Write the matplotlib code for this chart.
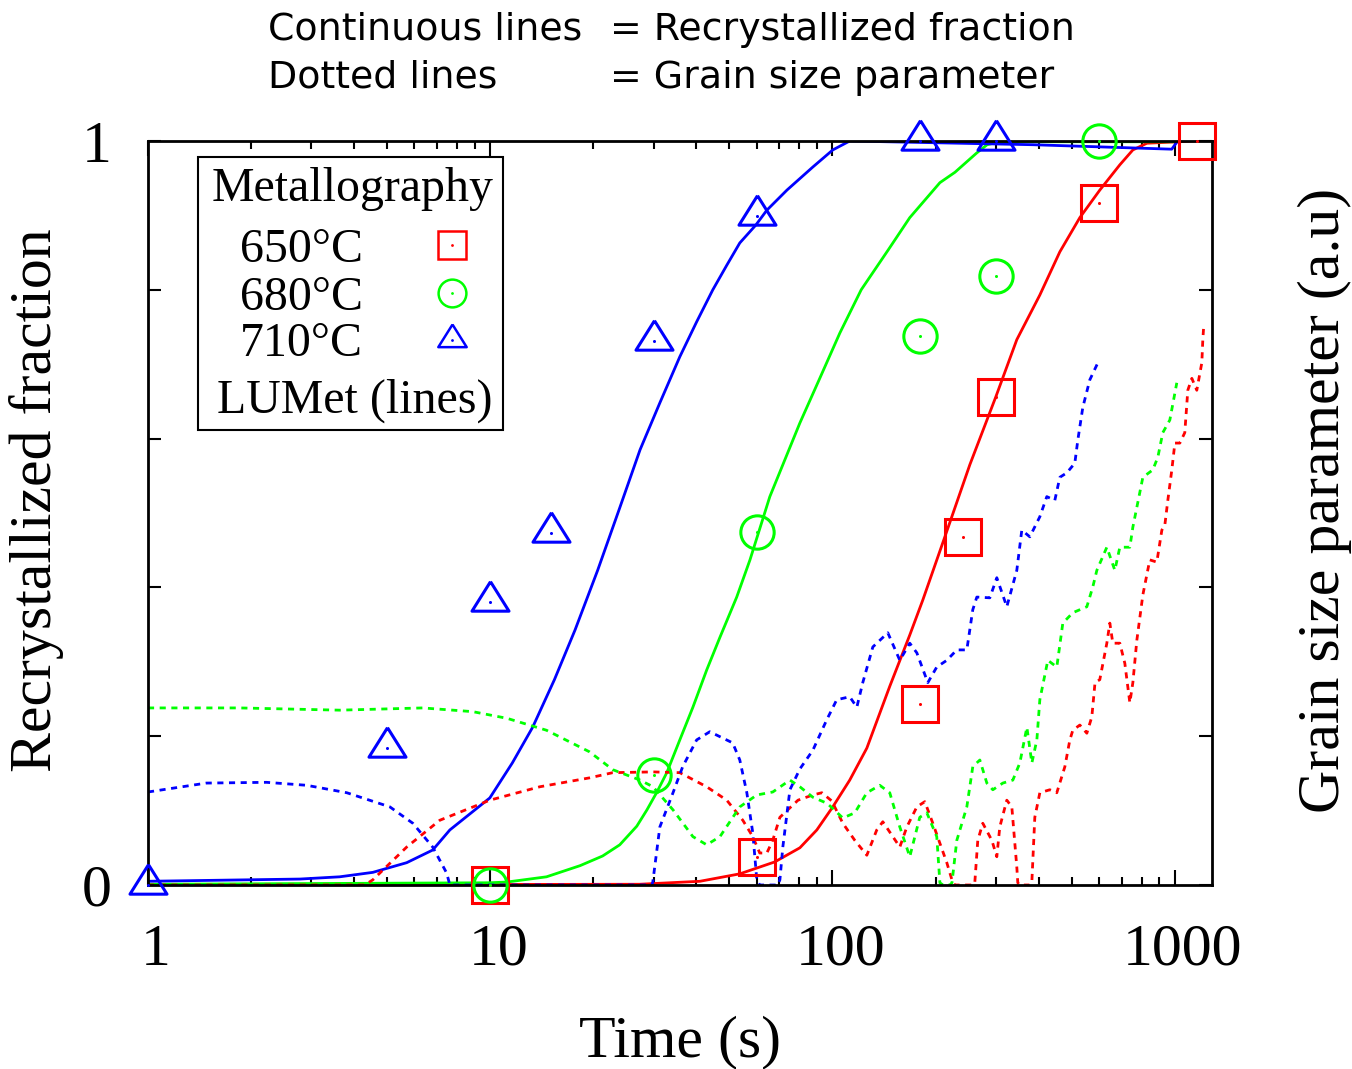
import matplotlib
matplotlib.use("Agg")
import matplotlib.pyplot as plt
from matplotlib.patches import Rectangle
from matplotlib.lines import Line2D
from matplotlib.transforms import ScaledTranslation
from matplotlib.ticker import FixedLocator, NullFormatter, FixedFormatter

# ---------------- Metallography (time in s, recrystallized fraction) ----------------
met650_t = [10, 60, 180, 240, 300, 600, 1160]
met650_f = [0.0, 0.038, 0.243, 0.468, 0.656, 0.917, 1.0]

met680_t = [10, 30, 60, 180, 300, 600]
met680_f = [0.0, 0.148, 0.474, 0.738, 0.819, 1.0]

met710_t = [1, 5, 10, 15, 30, 60, 180, 300]
met710_f = [0.0, 0.184, 0.380, 0.473, 0.731, 0.899, 1.0, 1.0]

# ---------------- LUMet: recrystallized fraction ----------------
rx710_t = [1.0, 1.98, 2.78, 3.63, 4.54, 5.70, 6.79, 7.62, 9.97, 11.6, 13.3, 15.4, 17.7,
           20.6, 23.9, 27.4, 31.3, 35.8, 40.1, 44.7, 49.1, 53.6, 59.7, 64.3, 73.6, 87.6,
           100.2, 112.3, 385, 980, 1020]
rx710_f = [0.005, 0.007, 0.008, 0.011, 0.017, 0.030, 0.047, 0.074, 0.117, 0.164, 0.212,
           0.276, 0.343, 0.423, 0.507, 0.585, 0.648, 0.710, 0.757, 0.800, 0.833, 0.863,
           0.887, 0.907, 0.934, 0.965, 0.988, 1.0, 0.995, 0.989, 1.0]

rx680_t = [1.0, 9.97, 11.2, 14.6, 18.3, 21.3, 23.9, 26.8, 28.7, 30.7, 32.8, 35.8, 39.1,
           42.9, 46.9, 52.5, 57.4, 65.6, 80.3, 91.8, 105.1, 121.3, 145.2, 168.2, 206, 228,
           264, 283, 308, 1001]
rx680_f = [0.001, 0.003, 0.004, 0.011, 0.026, 0.039, 0.054, 0.079, 0.101, 0.125, 0.151,
           0.195, 0.239, 0.289, 0.333, 0.387, 0.437, 0.522, 0.621, 0.681, 0.742, 0.800,
           0.853, 0.897, 0.944, 0.958, 0.984, 0.995, 0.999, 0.999]

rx650_t = [1.0, 27.3, 41.0, 53.6, 67.8, 80.3, 90.0, 100.2, 112.3, 126, 147, 168.2, 183.6,
           213, 252, 300, 345.6, 403.5, 461.6, 528.1, 604, 691.2, 754.5, 829, 1145]
rx650_f = [0.0, 0.001, 0.005, 0.015, 0.031, 0.050, 0.074, 0.105, 0.141, 0.184, 0.267,
           0.336, 0.383, 0.468, 0.565, 0.656, 0.733, 0.793, 0.851, 0.897, 0.934, 0.968,
           0.988, 0.997, 1.0]

# ---------------- LUMet: grain size parameter ----------------
gs710_t = [1.0, 1.48, 2.22, 2.91, 3.81, 5.09, 5.94, 6.79, 7.46, 7.62, 29.65, 29.85, 31.3,
           34.2, 36.5, 40.1, 43.8, 51.1, 53.6, 56.2, 58.5, 60.1, 61.3, 69.2, 70.2, 71.6,
           75.1, 80.3, 87.6, 96.2, 102.9, 112.3, 117.8, 122.6, 131.2, 145.1, 157.3, 168.2,
           176.4, 189.9, 201.7, 215.8, 230.8, 246.9, 257, 264.1, 288.2, 302.1, 323.1,
           345.6, 357.4, 377.2, 403.5, 422.9, 446.3, 461.6, 483.9, 510.6, 521, 538.8,
           564.8, 596.3]
gs710_v = [0.125, 0.137, 0.138, 0.134, 0.124, 0.105, 0.083, 0.051, 0.016, 0.0, 0.0, 0.004,
           0.078, 0.124, 0.159, 0.195, 0.206, 0.191, 0.168, 0.124, 0.070, 0.007, 0.0, 0.0,
           0.007, 0.051, 0.128, 0.156, 0.181, 0.222, 0.249, 0.253, 0.239, 0.272, 0.320,
           0.339, 0.302, 0.325, 0.312, 0.272, 0.293, 0.302, 0.316, 0.316, 0.370, 0.387,
           0.386, 0.413, 0.374, 0.423, 0.477, 0.468, 0.495, 0.522, 0.517, 0.548, 0.554,
           0.567, 0.598, 0.642, 0.679, 0.702]

gs680_t = [1.0, 1.85, 3.63, 6.35, 8.89, 11.2, 14.6, 19.5, 22.8, 27.4, 29.9, 34.2, 39.1,
           42.9, 46.9, 53.6, 60.1, 66.9, 75.1, 80.3, 87.6, 96.2, 100.2, 107.2, 116.2, 126,
           137.5, 147, 157.3, 168.2, 179.9, 188.7, 201.7, 206, 210.2, 220.3, 223.4, 230.8,
           246.9, 257, 269.5, 282.5, 294.1, 314.6, 336.5, 352.7, 369.8, 382.4, 395.5,
           403.5, 425.8, 452.3, 471, 503.8, 553.6, 576.5, 592.2, 633.3, 668.3, 691.2,
           739.3, 754.5, 807, 863, 892.6, 922.9, 967.6, 1014]
gs680_v = [0.238, 0.238, 0.235, 0.238, 0.233, 0.224, 0.208, 0.179, 0.155, 0.141, 0.132,
           0.101, 0.065, 0.054, 0.065, 0.105, 0.121, 0.125, 0.141, 0.132, 0.118, 0.110,
           0.103, 0.090, 0.097, 0.124, 0.134, 0.124, 0.078, 0.038, 0.091, 0.097, 0.065,
           0.003, 0.0, 0.0, 0.003, 0.060, 0.105, 0.159, 0.168, 0.137, 0.128, 0.137, 0.141,
           0.164, 0.212, 0.164, 0.195, 0.249, 0.302, 0.293, 0.352, 0.366, 0.374, 0.401,
           0.423, 0.454, 0.423, 0.454, 0.454, 0.481, 0.548, 0.558, 0.575, 0.608, 0.625,
           0.675]

gs650_t = [1.0, 4.30, 4.54, 5.70, 7.12, 9.97, 13.95, 19.5, 22.8, 29.9, 35.8, 42.9, 49.1,
           54.7, 58.5, 61.3, 64.3, 66.9, 70.2, 79.3, 87.6, 93.1, 99.5, 107.2, 116.2, 126,
           134.7, 140.3, 150.1, 157.3, 164.9, 176.4, 186.1, 196.4, 206, 215.8, 224.7,
           227.9, 257, 260.5, 265.8, 274.9, 292.2, 302.1, 308.2, 323.1, 334.2, 345.6,
           347.9, 352.7, 377.2, 382.3, 390.1, 403.5, 431.5, 452.3, 477.5, 493.8, 503.8,
           528.1, 553.6, 572.5, 584.9, 604, 633.3, 646.2, 659.4, 691.2, 714.8, 739.3,
           754.5, 775, 807, 845.6, 886.5, 917, 935.7, 954.6, 980.6, 1001, 1035, 1070,
           1092, 1122, 1160, 1200, 1208, 1216]
gs650_v = [0.0, 0.0, 0.007, 0.051, 0.087, 0.114, 0.132, 0.144, 0.151, 0.152, 0.151, 0.132,
           0.114, 0.087, 0.065, 0.043, 0.043, 0.060, 0.091, 0.114, 0.121, 0.124, 0.113,
           0.083, 0.060, 0.040, 0.074, 0.085, 0.065, 0.051, 0.078, 0.105, 0.112, 0.083,
           0.056, 0.030, 0.003, 0.0, 0.0, 0.003, 0.060, 0.083, 0.060, 0.038, 0.078, 0.114,
           0.105, 0.024, 0.003, 0.0, 0.0, 0.003, 0.091, 0.124, 0.128, 0.124, 0.159, 0.195,
           0.208, 0.215, 0.204, 0.226, 0.272, 0.276, 0.325, 0.352, 0.325, 0.325, 0.298,
           0.245, 0.272, 0.329, 0.390, 0.437, 0.434, 0.477, 0.484, 0.517, 0.558, 0.594,
           0.594, 0.608, 0.665, 0.681, 0.665, 0.702, 0.733, 0.753]

# ---------------- axes text ----------------
x_ticks = [1, 10, 100, 1000]
x_tick_labels = ["1", "10", "100", "1000"]
y_ticks = [0, 0.2, 0.4, 0.6, 0.8, 1.0]
y_tick_labels = ["0", "", "", "", "", "1"]

RED, GREEN, BLUE = "#ff0000", "#00ff00", "#0000ff"
SERIF = ["Liberation Serif", "DejaVu Serif"]

W, H = 1352, 1069
fig = plt.figure(figsize=(W / 100, H / 100), dpi=100)


def fx(px):
    return px / W


def fy(py):
    return 1 - py / H


ax = fig.add_axes([fx(148), fy(885), fx(1212) - fx(148), fy(141) - fy(885)])
ax.set_xscale("log")
ax.set_xlim(1, 1285)
ax.set_ylim(0, 1)

# triangle whose anchor sits near the centroid (gnuplot style)
tri = [(0, 18), (-16, -7.5), (16, -7.5), (0, 18)]

sol = dict(lw=2.0, solid_joinstyle="round")
dot = dict(lw=2.0, dashes=(2.2, 2.0), dash_capstyle="butt")

ax.plot(rx650_t, rx650_f, color=RED, **sol)
ax.plot(rx680_t, rx680_f, color=GREEN, **sol)
ax.plot(rx710_t, rx710_f, color=BLUE, **sol)
ax.plot(gs650_t, gs650_v, color=RED, **dot)
ax.plot(gs680_t, gs680_v, color=GREEN, **dot)
ax.plot(gs710_t, gs710_v, color=BLUE, **dot)

mk = dict(ls="none", mfc="none", mew=2.2, clip_on=False, zorder=5)
ax.plot(met650_t, met650_f, marker="s", ms=25.5, mec=RED, **mk)
ax.plot(met680_t, met680_f, marker="o", ms=24, mec=GREEN, **mk)
ax.plot(met710_t, met710_f, marker=tri, ms=30, mec=BLUE, **mk)
for t, f, c in ((met650_t, met650_f, RED), (met680_t, met680_f, GREEN),
                (met710_t, met710_f, BLUE)):
    ax.plot(t, f, ls="none", marker="o", ms=2.2, mew=0, color=c, clip_on=False, zorder=6)

# ticks
ax.xaxis.set_major_locator(FixedLocator(x_ticks))
ax.xaxis.set_major_formatter(FixedFormatter(x_tick_labels))
ax.xaxis.set_minor_locator(FixedLocator([m * 10 ** d for d in range(0, 4) for m in range(2, 10)]))
ax.xaxis.set_minor_formatter(NullFormatter())
ax.yaxis.set_major_locator(FixedLocator(y_ticks))
ax.yaxis.set_major_formatter(FixedFormatter(y_tick_labels))
ax.tick_params(which="both", direction="in", top=True, right=True, width=1.5, color="black")
ax.tick_params(axis="x", which="major", length=11, pad=28)
ax.tick_params(axis="x", which="minor", length=5.5)
ax.tick_params(axis="y", which="major", length=9.5, pad=26)
shift = ScaledTranslation(0.08, 0, fig.dpi_scale_trans)
for lab in ax.get_xticklabels():
    lab.set_transform(lab.get_transform() + shift)
for lab in ax.get_xticklabels() + ax.get_yticklabels():
    lab.set_family(SERIF)
    lab.set_fontsize(43)
for s in ax.spines.values():
    s.set_linewidth(2.0)

# axis titles
fig.text(fx(37), fy(500), "Recrystallized fraction", rotation=90, ha="center", va="center",
         family=SERIF, fontsize=43)
fig.text(fx(1325), fy(500), "Grain size parameter (a.u)", rotation=90, ha="center",
         va="center", family=SERIF, fontsize=43)
fig.text(fx(680), fy(1042), "Time (s)", ha="center", va="center", family=SERIF, fontsize=43)

# header explaining the line styles
hdr = dict(family=["DejaVu Sans"], fontsize=27.3, va="baseline", ha="left")
fig.text(fx(268), fy(40), "Continuous lines", **hdr)
fig.text(fx(610), fy(40), "= Recrystallized fraction", **hdr)
fig.text(fx(268), fy(88), "Dotted lines", **hdr)
fig.text(fx(610), fy(88), "= Grain size parameter", **hdr)

# key box
fig.add_artist(Rectangle((fx(198), fy(430)), fx(503) - fx(198), fy(157) - fy(430),
                         transform=fig.transFigure, facecolor="white", edgecolor="black",
                         lw=1.5, zorder=3))
key = dict(family=SERIF, fontsize=34.5, va="baseline", ha="left", zorder=4)
fig.text(fx(212), fy(201), "Metallography", **key)
fig.text(fx(240), fy(262), "650°C", **key)
fig.text(fx(240), fy(310), "680°C", **key)
fig.text(fx(240), fy(356), "710°C", **key)
fig.text(fx(217), fy(413), "LUMet (lines)", **key)
for yy, m, ms, c in ((245, "s", 20, RED), (293, "o", 20, GREEN), (340, tri, 23, BLUE)):
    fig.add_artist(Line2D([fx(452)], [fy(yy)], transform=fig.transFigure, marker=m, ms=ms,
                          mfc="none", mec=c, mew=1.8, ls="none", zorder=4))
    fig.add_artist(Line2D([fx(452)], [fy(yy)], transform=fig.transFigure, marker="o",
                          ms=2, mew=0, color=c, ls="none", zorder=4))

fig.savefig("out.png", dpi=100)
